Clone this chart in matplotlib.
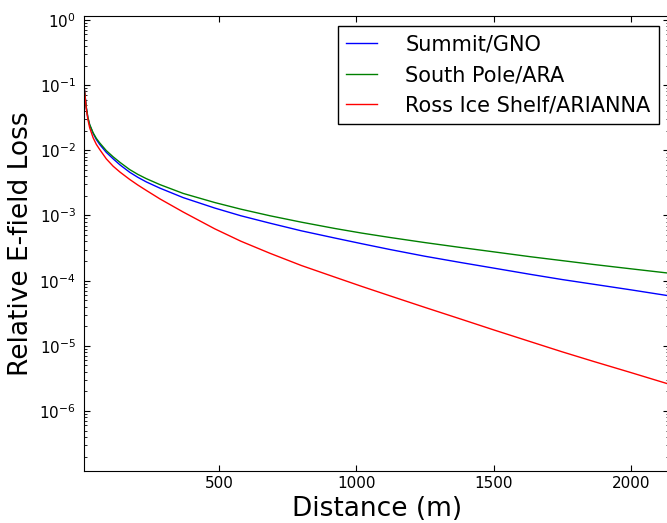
import matplotlib
matplotlib.use("Agg")
import matplotlib.pyplot as plt

# values (distance in m, relative E-field loss)
distance = [10, 17.5, 23, 29.5, 42, 54, 66, 90, 115, 140, 175, 205, 236, 285,
            370, 485, 580, 686, 800, 923, 1020, 1124, 1250, 1380, 1500, 1634,
            1750, 1865, 2000, 2134]
summit_gno = [0.088, 0.0445, 0.0315, 0.0245, 0.0182, 0.0146, 0.0123, 0.0093,
              0.0074, 0.00597, 0.00461, 0.00385, 0.00327, 0.00263, 0.00188,
              0.00130, 9.9e-4, 7.62e-4, 5.82e-4, 4.5e-4, 3.69e-4, 3.0e-4,
              2.37e-4, 1.9e-4, 1.56e-4, 1.25e-4, 1.04e-4, 8.8e-5, 7.23e-5,
              5.9e-5]
south_pole_ara = [0.088, 0.045, 0.032, 0.0249, 0.0186, 0.0152, 0.0130, 0.0099,
                  0.00794, 0.00652, 0.00507, 0.00427, 0.00367, 0.00298, 0.00218,
                  0.00158, 0.00125, 9.9e-4, 7.9e-4, 6.31e-4, 5.37e-4, 4.59e-4,
                  3.84e-4, 3.23e-4, 2.77e-4, 2.33e-4, 2.03e-4, 1.77e-4, 1.52e-4,
                  1.31e-4]
ross_arianna = [0.088, 0.0424, 0.0297, 0.0222, 0.0156, 0.0123, 0.0103, 0.0074,
                0.0057, 0.00463, 0.00358, 0.00293, 0.00242, 0.0018, 0.00113,
                6.24e-4, 4.03e-4, 2.63e-4, 1.71e-4, 1.13e-4, 8.17e-5, 5.83e-5,
                3.89e-5, 2.58e-5, 1.76e-5, 1.16e-5, 8.09e-6, 5.75e-6, 3.89e-6,
                2.62e-6]
labels = ["Summit/GNO", "South Pole/ARA", "Ross Ice Shelf/ARIANNA"]
colors = ["#0000ff", "#008000", "#ff0000"]
y_ticks = [1e-6, 1e-5, 1e-4, 1e-3, 1e-2, 1e-1, 1e0]

fig = plt.figure(figsize=(6.67, 5.23), dpi=100)
ax = fig.add_axes([0.1264, 0.0994, 0.877, 0.870])

for vals, lab, col in zip([summit_gno, south_pole_ara, ross_arianna], labels, colors):
    ax.plot(distance, vals, color=col, lw=1.0, label=lab)

ax.set_yscale("log")
ax.set_xlim(10, 2140)
ax.set_ylim(1.2e-7, 1.15)
ax.set_yticks(y_ticks)
ax.set_xticks([500, 1000, 1500, 2000])
ax.tick_params(which="both", direction="in", top=True, right=True, labelsize=11)
ax.tick_params(which="major", length=4, width=0.8)
ax.tick_params(which="minor", length=2, width=0.6)
ax.tick_params(axis="y", pad=6)

ax.set_xlabel("Distance (m)", fontsize=19)
ax.set_ylabel("Relative E-field Loss", fontsize=19)

leg = ax.legend(loc="upper right", fontsize=15, fancybox=False, framealpha=1,
                edgecolor="black", handlelength=1.5, handletextpad=1.35,
                borderpad=0.4, borderaxespad=0.5)
leg.get_frame().set_linewidth(1.0)

fig.savefig("out.png", dpi=100)
